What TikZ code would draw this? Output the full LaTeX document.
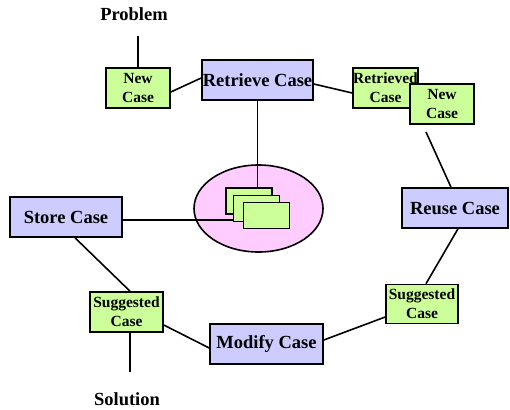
\documentclass[tikz,border=0pt]{standalone}
\usepackage{fontspec}
\setmainfont{Liberation Serif}
\usetikzlibrary{shapes.geometric}
\pgfdeclarelayer{bottom}
\pgfdeclarelayer{lines}
\pgfsetlayers{bottom,lines,main}
\definecolor{boxgreen}{HTML}{CCFF99}
\definecolor{boxblue}{HTML}{CCCCFF}
\definecolor{boxpink}{HTML}{FFCCFF}
\tikzset{
  every node/.style={font=\bfseries},
  conn/.style={line width=1.6pt},
  proc/.style={draw, line width=1.6pt, fill=boxblue, minimum height=40pt, inner sep=0pt, font=\fontsize{18.5}{20}\selectfont\bfseries},
  data/.style={draw, line width=1.6pt, fill=boxgreen, minimum width=64pt, minimum height=40pt, inner sep=0pt, align=center, font=\fontsize{15.5}{19}\selectfont\bfseries},
  card/.style={draw, line width=1.6pt, fill=boxgreen, minimum width=46pt, minimum height=26pt, inner sep=0pt},
  lbl/.style={font=\fontsize{18.5}{20}\selectfont\bfseries},
}
\begin{document}
\begin{tikzpicture}[x=1pt,y=-1pt]
\useasboundingbox (0,0) rectangle (510,409);
% labels
\node[lbl] (problem) at (134,14) {Problem};
\node[lbl] (solution) at (127,399) {Solution};
\coordinate (pend) at (138,36);
\coordinate (send) at (130,372);
\coordinate (gapend) at (426,132);
% process boxes
\node[proc, minimum width=111pt] (retrieve) at (257.5,80) {Retrieve Case};
\node[proc, minimum width=106pt] (reuse) at (455,208) {Reuse Case};
\node[proc, minimum width=113pt] (modify) at (266.5,344) {Modify Case};
\node[proc, minimum width=112pt] (store) at (66,217) {Store Case};
% data boxes
\node[data] (new1) at (138,88) {New\\Case};
\node[data, minimum width=65pt] (retrieved) at (385.5,88) {Retrieved\\Case};
\node[data] (new2) at (442,104) {New\\Case};
\node[data, minimum width=72pt, minimum height=39pt] (sugR) at (422,304) {Suggested\\Case};
\node[data, minimum width=73pt] (sugL) at (126.5,312) {Suggested\\Case};
% cards
\node[card] (c1) at (249,201) {};
\node[card] (c2) at (256.5,208.5) {};
\node[card] (c3) at (266.5,215.5) {};
% case base
\begin{pgfonlayer}{bottom}
\node[ellipse, draw, line width=1.6pt, fill=boxpink, minimum width=129pt, minimum height=87pt] (base) at (258.5,208.5) {};
\end{pgfonlayer}
% connectors
\begin{pgfonlayer}{lines}
\draw[conn] (pend) -- (pend |- new1.north);
\draw[conn] ([yshift=-4pt]new1.east) -- ([yshift=2pt]retrieve.west);
\draw[conn] ([yshift=-4pt]retrieve.east) -- ([yshift=-5pt]retrieved.west);
\draw[conn] (retrieve.south) -- (retrieve.south |- c1.north);
\draw[conn] ([yshift=-3pt]store.east) -- ([yshift=-3pt]store.east -| c2.center);
\draw[conn] (gapend) -- ([xshift=-4pt]reuse.north);
\draw[conn] ([xshift=3pt]reuse.south) -- ([xshift=4pt]sugR.north);
\draw[conn] ([yshift=4pt]modify.east) -- ([yshift=-13pt]sugR.west);
\draw[conn] ([yshift=-4pt]modify.west) -- ([yshift=-13pt]sugL.east);
\draw[conn] ([xshift=9pt]store.south) -- ([xshift=3.5pt]sugL.north);
\draw[conn] ([xshift=3.5pt]sugL.south) -- (send);
\end{pgfonlayer}
\end{tikzpicture}
\end{document}
